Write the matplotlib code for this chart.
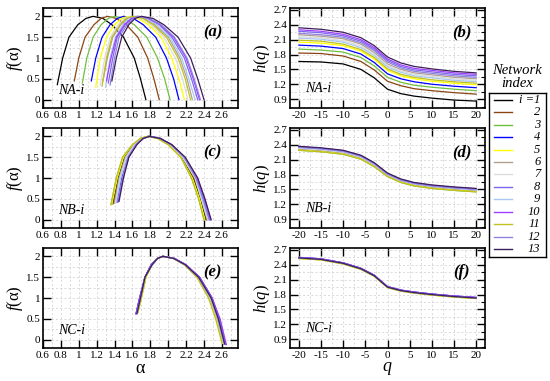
import matplotlib
matplotlib.use('Agg')
import matplotlib.pyplot as plt
from matplotlib.ticker import MultipleLocator, FuncFormatter

plt.rcParams['font.family'] = ['Liberation Serif', 'DejaVu Serif']
plt.rcParams['mathtext.fontset'] = 'custom'
plt.rcParams['mathtext.rm'] = 'Liberation Serif'
plt.rcParams['mathtext.it'] = 'Liberation Serif:italic'
plt.rcParams['axes.unicode_minus'] = False

# network index i = 1..13
colors = ['#000000', '#8b4513', '#70c040', '#0000ff', '#ffff00', '#b0a090', '#dcdcdc',
          '#7b68ee', '#a8c8f0', '#a040ff', '#c0c020', '#9080e0', '#3c1e5a']
labels = ['i =1', '2', '3', '4', '5', '6', '7', '8', '9', '10', '11', '12', '13']

# f(alpha) spectra: f at each point is [start] + f_mid + [end]
f_mid = [1.0, 1.5, 1.8, 1.95, 2.0, 1.95, 1.8, 1.5, 1.0, 0.5]

na_f_start = [0.36, 0.45, 0.40, 0.45, 0.30, 0.45, 0.35, 0.40, 0.30, 0.45, 0.32, 0.35, 0.45]
na_f_end = [0.0] * 13
na_alpha = [
    [0.76, 0.82, 0.89, 0.99, 1.08, 1.16, 1.27, 1.37, 1.50, 1.62, 1.69, 1.75],
    [0.95, 1.00, 1.07, 1.17, 1.25, 1.32, 1.42, 1.53, 1.66, 1.77, 1.84, 1.90],
    [1.04, 1.09, 1.16, 1.25, 1.33, 1.40, 1.51, 1.62, 1.76, 1.88, 1.96, 2.02],
    [1.14, 1.19, 1.26, 1.35, 1.43, 1.50, 1.61, 1.72, 1.86, 1.98, 2.06, 2.12],
    [1.19, 1.24, 1.31, 1.40, 1.48, 1.55, 1.66, 1.78, 1.92, 2.04, 2.12, 2.18],
    [1.27, 1.32, 1.38, 1.47, 1.55, 1.62, 1.74, 1.85, 2.00, 2.13, 2.21, 2.27],
    [1.24, 1.29, 1.35, 1.44, 1.51, 1.58, 1.70, 1.81, 1.95, 2.08, 2.16, 2.22],
    [1.33, 1.38, 1.43, 1.52, 1.59, 1.65, 1.77, 1.90, 2.04, 2.18, 2.26, 2.33],
    [1.30, 1.35, 1.41, 1.49, 1.56, 1.63, 1.75, 1.87, 2.02, 2.15, 2.23, 2.30],
    [1.31, 1.36, 1.42, 1.51, 1.59, 1.66, 1.78, 1.91, 2.06, 2.20, 2.28, 2.35],
    [1.26, 1.31, 1.37, 1.46, 1.53, 1.60, 1.72, 1.83, 1.98, 2.11, 2.19, 2.25],
    [1.35, 1.40, 1.45, 1.54, 1.61, 1.67, 1.79, 1.92, 2.07, 2.21, 2.29, 2.36],
    [1.37, 1.42, 1.48, 1.56, 1.63, 1.70, 1.83, 1.95, 2.11, 2.25, 2.33, 2.40],
]

nb_f_start = [0.38, 0.40, 0.36, 0.42, 0.37, 0.40, 0.40, 0.43, 0.41, 0.43, 0.36, 0.42, 0.44]
nb_f_end = [0.0] * 13
nb_alpha = [
    [1.38, 1.44, 1.51, 1.61, 1.70, 1.78, 1.90, 2.01, 2.15, 2.28, 2.36, 2.42],
    [1.39, 1.45, 1.52, 1.62, 1.70, 1.78, 1.90, 2.01, 2.16, 2.29, 2.37, 2.43],
    [1.36, 1.42, 1.49, 1.60, 1.69, 1.77, 1.88, 2.00, 2.14, 2.26, 2.34, 2.40],
    [1.43, 1.48, 1.55, 1.64, 1.72, 1.79, 1.91, 2.03, 2.18, 2.31, 2.39, 2.46],
    [1.37, 1.43, 1.50, 1.60, 1.69, 1.77, 1.89, 2.00, 2.14, 2.27, 2.35, 2.41],
    [1.40, 1.45, 1.52, 1.62, 1.70, 1.78, 1.90, 2.02, 2.16, 2.30, 2.37, 2.44],
    [1.41, 1.46, 1.53, 1.62, 1.71, 1.78, 1.90, 2.02, 2.16, 2.30, 2.37, 2.44],
    [1.44, 1.49, 1.55, 1.64, 1.72, 1.79, 1.91, 2.04, 2.18, 2.32, 2.40, 2.47],
    [1.42, 1.47, 1.54, 1.63, 1.72, 1.79, 1.91, 2.03, 2.17, 2.31, 2.38, 2.45],
    [1.44, 1.49, 1.56, 1.64, 1.72, 1.79, 1.91, 2.04, 2.18, 2.32, 2.41, 2.47],
    [1.36, 1.42, 1.49, 1.60, 1.69, 1.77, 1.88, 2.00, 2.14, 2.26, 2.34, 2.40],
    [1.43, 1.49, 1.55, 1.64, 1.72, 1.79, 1.91, 2.03, 2.18, 2.31, 2.39, 2.46],
    [1.45, 1.50, 1.56, 1.65, 1.72, 1.79, 1.91, 2.04, 2.19, 2.33, 2.41, 2.48],
]

nc_f_start = [0.63, 0.63, 0.65, 0.62, 0.65, 0.63, 0.63, 0.62, 0.63, 0.62, 0.65, 0.63, 0.63]
nc_f_end = [-0.10, -0.10, -0.09, -0.11, -0.09, -0.10, -0.10, -0.11, -0.10, -0.12, -0.08, -0.10, -0.10]
nc_alpha = [
    [1.65, 1.69, 1.74, 1.82, 1.88, 1.94, 2.06, 2.18, 2.33, 2.47, 2.55, 2.62],
    [1.65, 1.69, 1.74, 1.82, 1.88, 1.94, 2.06, 2.19, 2.34, 2.48, 2.56, 2.63],
    [1.66, 1.70, 1.75, 1.82, 1.88, 1.94, 2.06, 2.18, 2.33, 2.46, 2.54, 2.61],
    [1.64, 1.68, 1.74, 1.81, 1.88, 1.94, 2.07, 2.19, 2.35, 2.49, 2.57, 2.64],
    [1.66, 1.70, 1.75, 1.82, 1.88, 1.94, 2.06, 2.18, 2.33, 2.46, 2.54, 2.61],
    [1.65, 1.69, 1.74, 1.82, 1.88, 1.94, 2.06, 2.18, 2.33, 2.47, 2.55, 2.62],
    [1.65, 1.69, 1.74, 1.82, 1.88, 1.94, 2.06, 2.19, 2.34, 2.48, 2.56, 2.63],
    [1.64, 1.68, 1.74, 1.81, 1.88, 1.94, 2.07, 2.19, 2.35, 2.49, 2.57, 2.64],
    [1.65, 1.69, 1.74, 1.82, 1.88, 1.94, 2.06, 2.18, 2.33, 2.47, 2.55, 2.62],
    [1.64, 1.68, 1.74, 1.81, 1.88, 1.94, 2.07, 2.20, 2.35, 2.49, 2.58, 2.65],
    [1.66, 1.70, 1.75, 1.82, 1.88, 1.94, 2.06, 2.18, 2.32, 2.45, 2.53, 2.60],
    [1.65, 1.69, 1.74, 1.82, 1.88, 1.94, 2.06, 2.19, 2.34, 2.48, 2.56, 2.63],
    [1.65, 1.69, 1.74, 1.82, 1.88, 1.94, 2.06, 2.19, 2.34, 2.48, 2.56, 2.63],
]

# generalized Hurst exponent h(q)
q = [-20, -15, -10, -6, -3, 0, 3, 6, 10, 15, 20]
na_h = [
    [1.66, 1.65, 1.61, 1.50, 1.33, 1.10, 1.01, 0.96, 0.92, 0.88, 0.86],
    [1.83, 1.82, 1.77, 1.66, 1.49, 1.26, 1.17, 1.11, 1.07, 1.03, 1.00],
    [1.91, 1.89, 1.85, 1.74, 1.57, 1.34, 1.24, 1.18, 1.14, 1.10, 1.07],
    [1.99, 1.97, 1.92, 1.81, 1.64, 1.41, 1.31, 1.25, 1.20, 1.16, 1.13],
    [2.05, 2.03, 1.98, 1.87, 1.71, 1.48, 1.37, 1.31, 1.26, 1.22, 1.19],
    [2.20, 2.17, 2.12, 2.01, 1.84, 1.61, 1.50, 1.43, 1.39, 1.34, 1.31],
    [2.16, 2.14, 2.08, 1.97, 1.81, 1.58, 1.47, 1.40, 1.36, 1.31, 1.28],
    [2.27, 2.24, 2.18, 2.07, 1.91, 1.68, 1.56, 1.49, 1.45, 1.40, 1.37],
    [2.13, 2.11, 2.05, 1.94, 1.78, 1.55, 1.44, 1.37, 1.33, 1.28, 1.25],
    [2.30, 2.27, 2.21, 2.10, 1.94, 1.71, 1.59, 1.52, 1.48, 1.43, 1.40],
    [2.09, 2.07, 2.01, 1.90, 1.74, 1.51, 1.40, 1.34, 1.29, 1.25, 1.22],
    [2.23, 2.20, 2.15, 2.04, 1.88, 1.65, 1.53, 1.46, 1.42, 1.37, 1.34],
    [2.34, 2.31, 2.25, 2.14, 1.98, 1.75, 1.63, 1.56, 1.51, 1.46, 1.43],
]
nb_h = [
    [2.31, 2.28, 2.23, 2.13, 1.98, 1.77, 1.65, 1.58, 1.53, 1.49, 1.46],
    [2.31, 2.28, 2.23, 2.13, 1.98, 1.78, 1.66, 1.59, 1.54, 1.50, 1.47],
    [2.29, 2.26, 2.21, 2.11, 1.96, 1.76, 1.64, 1.57, 1.52, 1.48, 1.45],
    [2.35, 2.32, 2.27, 2.17, 2.02, 1.81, 1.69, 1.62, 1.57, 1.53, 1.50],
    [2.30, 2.27, 2.22, 2.12, 1.97, 1.77, 1.65, 1.58, 1.53, 1.49, 1.46],
    [2.32, 2.29, 2.24, 2.14, 1.99, 1.79, 1.67, 1.60, 1.55, 1.51, 1.48],
    [2.33, 2.30, 2.25, 2.15, 2.00, 1.80, 1.68, 1.61, 1.56, 1.52, 1.49],
    [2.36, 2.33, 2.28, 2.18, 2.03, 1.82, 1.70, 1.63, 1.58, 1.54, 1.51],
    [2.34, 2.31, 2.26, 2.16, 2.01, 1.80, 1.68, 1.61, 1.56, 1.52, 1.49],
    [2.36, 2.33, 2.28, 2.18, 2.03, 1.82, 1.70, 1.63, 1.58, 1.54, 1.51],
    [2.29, 2.26, 2.21, 2.11, 1.96, 1.76, 1.64, 1.57, 1.52, 1.48, 1.45],
    [2.35, 2.32, 2.27, 2.17, 2.02, 1.81, 1.69, 1.62, 1.57, 1.53, 1.50],
    [2.37, 2.34, 2.29, 2.19, 2.04, 1.83, 1.71, 1.64, 1.59, 1.55, 1.52],
]
nc_h = [
    [2.54, 2.51, 2.43, 2.32, 2.18, 1.95, 1.88, 1.84, 1.80, 1.76, 1.73],
    [2.54, 2.51, 2.43, 2.32, 2.18, 1.95, 1.88, 1.84, 1.80, 1.76, 1.73],
    [2.53, 2.50, 2.42, 2.31, 2.17, 1.94, 1.87, 1.83, 1.79, 1.75, 1.72],
    [2.55, 2.52, 2.44, 2.33, 2.19, 1.96, 1.89, 1.85, 1.81, 1.77, 1.74],
    [2.53, 2.50, 2.42, 2.31, 2.17, 1.94, 1.87, 1.83, 1.79, 1.75, 1.72],
    [2.54, 2.51, 2.43, 2.32, 2.18, 1.95, 1.88, 1.84, 1.80, 1.76, 1.73],
    [2.54, 2.51, 2.43, 2.32, 2.18, 1.95, 1.88, 1.84, 1.80, 1.76, 1.73],
    [2.55, 2.52, 2.44, 2.33, 2.19, 1.96, 1.89, 1.85, 1.81, 1.77, 1.74],
    [2.54, 2.51, 2.43, 2.32, 2.18, 1.95, 1.88, 1.84, 1.80, 1.76, 1.73],
    [2.55, 2.52, 2.44, 2.33, 2.19, 1.96, 1.89, 1.85, 1.81, 1.77, 1.74],
    [2.53, 2.50, 2.42, 2.31, 2.17, 1.94, 1.87, 1.83, 1.79, 1.75, 1.72],
    [2.54, 2.51, 2.43, 2.32, 2.18, 1.95, 1.88, 1.84, 1.80, 1.76, 1.73],
    [2.54, 2.51, 2.43, 2.32, 2.18, 1.95, 1.88, 1.84, 1.80, 1.76, 1.73],
]

alpha_ticks = [0.6, 0.8, 1.0, 1.2, 1.4, 1.6, 1.8, 2.0, 2.2, 2.4, 2.6]
f_ticks = [0, 0.5, 1, 1.5, 2]
q_ticks = [-20, -15, -10, -5, 0, 5, 10, 15, 20]
h_ticks = [0.9, 1.2, 1.5, 1.8, 2.1, 2.4, 2.7]

fmt = FuncFormatter(lambda v, p: '{:g}'.format(round(v, 2)))

fig = plt.figure(figsize=(5.5, 3.81), dpi=100)
W, H = 550.0, 381.0
row_tops = [8, 128, 248]


def style(ax, minor_x, minor_y):
    ax.xaxis.set_minor_locator(MultipleLocator(minor_x))
    ax.yaxis.set_minor_locator(MultipleLocator(minor_y))
    ax.tick_params(which='both', direction='in', top=True, right=True, labelsize=8, pad=2)
    ax.tick_params(which='major', length=6, width=1.0)
    ax.tick_params(which='minor', length=3, width=0.8)
    ax.xaxis.set_major_formatter(fmt)
    ax.yaxis.set_major_formatter(fmt)
    ax.grid(which='both', color='#cccccc', linestyle=(0, (3, 3)), linewidth=0.5)
    ax.set_axisbelow(True)
    for s in ax.spines.values():
        s.set_linewidth(1.2)


panels = [
    (na_alpha, na_f_start, na_f_end, na_h, 'NA-i', '(a)', '(b)'),
    (nb_alpha, nb_f_start, nb_f_end, nb_h, 'NB-i', '(c)', '(d)'),
    (nc_alpha, nc_f_start, nc_f_end, nc_h, 'NC-i', '(e)', '(f)'),
]

for r, (alpha, fs, fe, hq, name, tag_l, tag_r) in enumerate(panels):
    bottom = 1 - (row_tops[r] + 100) / H
    axl = fig.add_axes([43 / W, bottom, 195 / W, 100 / H])
    axr = fig.add_axes([290 / W, bottom, 195 / W, 100 / H])

    for i in range(13):
        fvals = [fs[i]] + f_mid + [fe[i]]
        axl.plot(alpha[i], fvals, color=colors[i], lw=0.9)
        axr.plot(q, hq[i], color=colors[i], lw=0.9)

    axl.set_xlim(0.6, 2.78)
    axl.set_ylim(-0.2, 2.2)
    axl.set_xticks(alpha_ticks)
    axl.set_yticks(f_ticks)
    style(axl, 0.1, 0.25)
    axl.tick_params(which='minor', top=False, bottom=False, left=False, right=False)
    axl.set_ylabel('$f$(α)', fontsize=12, labelpad=1)
    axl.text(0.08, 0.14, name, transform=axl.transAxes, fontsize=10, style='italic')
    axl.text(0.87, 0.76, tag_l, transform=axl.transAxes, fontsize=12,
             style='italic', weight='bold', ha='center', va='center')

    axr.set_xlim(-22, 22)
    axr.set_ylim(0.72, 2.74)
    axr.set_xticks(q_ticks)
    axr.set_yticks(h_ticks)
    style(axr, 2.5, 0.15)
    axr.tick_params(which='minor', top=False, bottom=False, left=False)
    axr.set_ylabel('$h$($q$)', fontsize=12, labelpad=1)
    axr.text(0.08, 0.16, name, transform=axr.transAxes, fontsize=10, style='italic')
    axr.text(0.88, 0.76, tag_r, transform=axr.transAxes, fontsize=12,
             style='italic', weight='bold', ha='center', va='center')

    if r == 2:
        axl.set_xlabel('α', fontsize=13, labelpad=0)
        axr.set_xlabel('$q$', fontsize=13, labelpad=0)

# legend box
lax = fig.add_axes([489 / W, 1 - 257 / H, 57 / W, 164 / H])
lax.set_xlim(0, 1)
lax.set_ylim(13.65, 0.44)
lax.set_xticks([])
lax.set_yticks([])
for s in lax.spines.values():
    s.set_linewidth(1.0)
for i in range(13):
    lax.plot([0.09, 0.40], [i + 1, i + 1], color=colors[i], lw=1.0)
    lax.text(0.90, i + 1, labels[i], ha='right', va='center', fontsize=9, style='italic')
fig.text(517 / W, 1 - 77 / H, 'Network\nindex', ha='center', va='center',
         fontsize=10.5, style='italic', linespacing=1.0)

fig.savefig('out.png', dpi=100)
